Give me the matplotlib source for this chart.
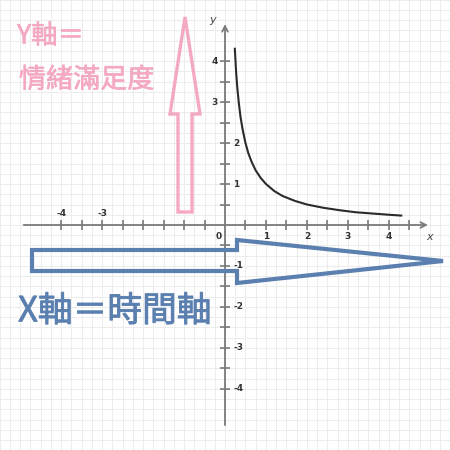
import numpy as np
import matplotlib
matplotlib.use('Agg')
import matplotlib.pyplot as plt
import matplotlib.patheffects as pe
from matplotlib.patches import Polygon

plt.rcParams['font.family'] = ['Noto Sans CJK TC', 'DejaVu Sans']

# curve points (y = 1/x look)
curve_x = [0.24, 0.27, 0.3, 0.34, 0.38, 0.43, 0.5, 0.57, 0.65, 0.75, 0.87, 1.0,
           1.2, 1.4, 1.7, 2.0, 2.4, 2.8, 3.2, 3.6, 4.0, 4.3]
curve_y = [4.3, 3.75, 3.35, 2.95, 2.63, 2.33, 2.0, 1.75, 1.54, 1.33, 1.15, 1.0,
           0.83, 0.71, 0.59, 0.5, 0.42, 0.36, 0.31, 0.28, 0.25, 0.23]

x_ticks = [-4, -3.5, -3, -2.5, -2, -1.5, -1, -0.5, 0.5, 1, 1.5, 2, 2.5, 3, 3.5, 4, 4.5]
y_ticks = [-4, -3.5, -3, -2.5, -2, -1.5, -1, -0.5, 0.5, 1, 1.5, 2, 2.5, 3, 3.5, 4]
x_labels_neg = [-4, -3]
x_labels_pos = [1, 2, 3, 4]
y_labels_left = [4, 3]
y_labels_right = [2, 1, -1, -2, -3, -4]

# arrow outlines, in pixels of the 450px picture (top-left origin)
pink_arrow = [(178, 212), (178, 114), (170, 114), (185, 17), (200, 114), (192, 114), (192, 212)]
blue_arrow = [(32, 250), (237, 250), (237, 240), (443, 261), (237, 283), (237, 271), (32, 271)]

lim = 5.49
fig = plt.figure(figsize=(4.5, 4.5), dpi=100)
ax = fig.add_axes([0, 0, 1, 1])
ax.set_xlim(-lim, lim)
ax.set_ylim(-lim, lim)
ax.axis('off')

# graph paper
for g in np.arange(-5.5, 5.51, 0.25):
    ax.axvline(g, color='#ececec', lw=0.7, zorder=0)
    ax.axhline(g, color='#ececec', lw=0.7, zorder=0)

# axes with arrow heads
axcol = '#7a7a7a'
ax.annotate('', xy=(5.02, 0), xytext=(-4.98, 0),
            arrowprops=dict(arrowstyle='->', color=axcol, lw=1.3), zorder=2)
ax.annotate('', xy=(0, 4.97), xytext=(0, -4.95),
            arrowprops=dict(arrowstyle='->', color=axcol, lw=1.3), zorder=2)
ax.plot(x_ticks, [0]*len(x_ticks), ls='none', marker='|', ms=7, mew=1.2, color=axcol, zorder=2)
ax.plot([0]*len(y_ticks), y_ticks, ls='none', marker='_', ms=7, mew=1.2, color=axcol, zorder=2)

tk = dict(fontsize=6.5, color='#333333', ha='center', va='center', family='DejaVu Sans',
          fontweight='bold')
for v in x_labels_neg:
    ax.text(v, 0.29, str(v), **tk)
for v in x_labels_pos:
    ax.text(v, -0.29, str(v), **tk)
for v in y_labels_left:
    ax.text(-0.25, v, str(v), **tk)
for v in y_labels_right:
    ax.text(0.33 if v < 0 else 0.27, v, str(v), **tk)
ax.text(-0.15, -0.27, '0', **tk)
ax.text(-0.3, 5.0, 'y', fontsize=8, color='#444444', ha='center', va='center', style='italic', family='DejaVu Sans')
ax.text(5.0, -0.3, 'x', fontsize=8, color='#444444', ha='center', va='center', style='italic', family='DejaVu Sans')

ax.plot(curve_x, curve_y, color='#2b2b2b', lw=1.5, zorder=3)

pink = '#f5a8c2'
blue = '#5b80b0'
to_ax = lambda pts: [(px / 450, 1 - py / 450) for px, py in pts]
ax.add_patch(Polygon(to_ax(pink_arrow), closed=True, fill=False, ec=pink, lw=2.4,
                     joinstyle='miter', transform=ax.transAxes, zorder=4))
ax.add_patch(Polygon(to_ax(blue_arrow), closed=True, fill=False, ec=blue, lw=3.0,
                     joinstyle='miter', transform=ax.transAxes, zorder=4))

pink_fx = [pe.withStroke(linewidth=0.45, foreground=pink)]
blue_fx = [pe.withStroke(linewidth=0.6, foreground=blue)]
ax.text(0.038, 0.92, 'Y軸＝', color=pink, fontsize=19, ha='left', va='center',
        transform=ax.transAxes, zorder=5, path_effects=pink_fx)
ax.text(0.042, 0.822, '情緒滿足度', color=pink, fontsize=19.5, ha='left', va='center',
        transform=ax.transAxes, zorder=5, path_effects=pink_fx)
ax.text(0.04, 0.307, 'X軸＝時間軸', color=blue, fontsize=25,
        ha='left', va='center', transform=ax.transAxes, zorder=5, path_effects=blue_fx)

fig.savefig('out.png', dpi=100)
